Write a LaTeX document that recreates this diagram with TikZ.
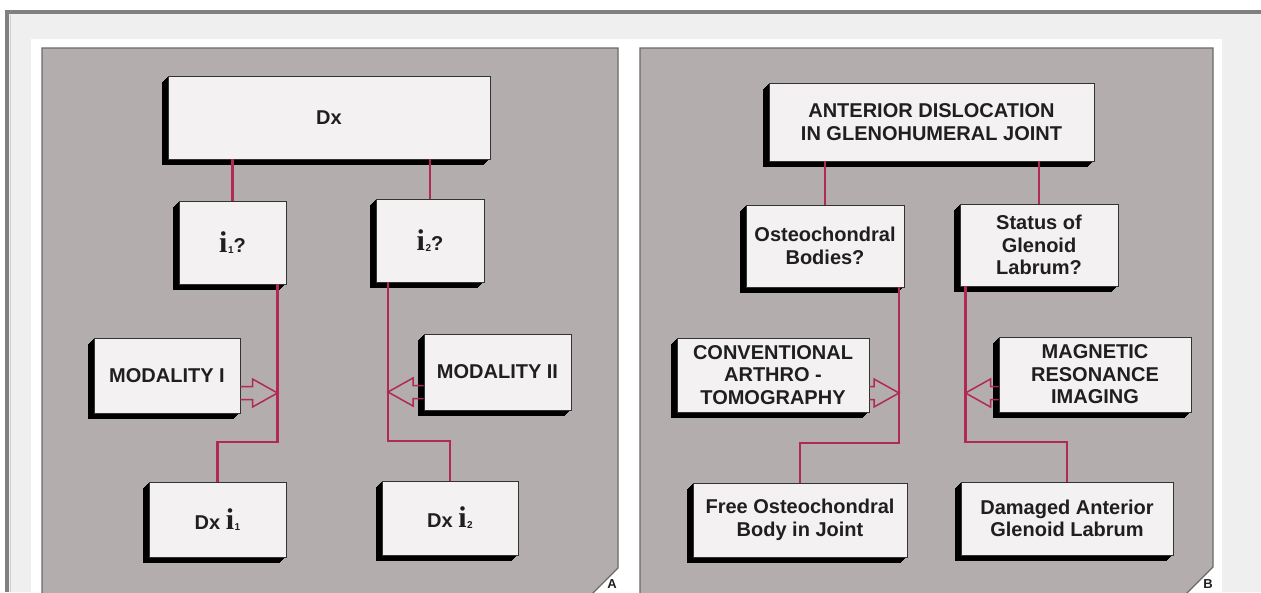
\documentclass[tikz,border=0pt]{standalone}
\usepackage{fontspec}
\setmainfont{Liberation Sans}
\newfontfamily\slabfont{Liberation Serif}
\usetikzlibrary{calc,shadows}

\definecolor{pagegray}{HTML}{EFEFEF}
\definecolor{framegray}{HTML}{808080}
\definecolor{panelgray}{HTML}{B3ADAE}
\definecolor{paneledge}{HTML}{6E6869}
\definecolor{cardfill}{HTML}{F4F1F2}
\definecolor{linkred}{HTML}{B12A55}

\tikzset{
  extrude/.style={
    general shadow={shadow xshift=-1pt,shadow yshift=-1pt,fill=black},
    general shadow={shadow xshift=-2pt,shadow yshift=-2pt,fill=black},
    general shadow={shadow xshift=-3pt,shadow yshift=-3pt,fill=black},
    general shadow={shadow xshift=-4pt,shadow yshift=-4pt,fill=black},
    general shadow={shadow xshift=-5pt,shadow yshift=-5pt,fill=black},
    general shadow={shadow xshift=-6pt,shadow yshift=-6pt,fill=black}},
  card/.style={extrude, fill=cardfill, draw=black!80, line width=0.8pt,
    inner sep=2pt, align=center, text=black!88,
    font=\bfseries\fontsize{20}{22.5}\selectfont},
  link/.style={draw=linkred, line width=2.5pt},
  hollow/.style={draw=linkred, line width=1.5pt, line join=miter},
  panel/.style={fill=panelgray, draw=paneledge, line width=1.2pt},
  tag/.style={anchor=south, text=black!88, font=\bfseries\fontsize{13}{13}\selectfont}
}

% index variable: serif i with a small subscript
\newcommand{\ivar}[1]{{\slabfont\fontsize{30}{30}\selectfont i}\kern0.5pt\raisebox{-1pt}{\fontsize{10}{10}\selectfont #1}}
% open arrow from a tail coordinate to a tip coordinate, #3 = 1 (right) or -1 (left)
\newcommand{\openarrow}[3]{%
  \draw[hollow] ($(#1)+(0,-6.5)$) -- ($(#2)+({-25*#3},-6.5)$) -- ($(#2)+({-25*#3},-14)$)
    -- (#2) -- ($(#2)+({-25*#3},14)$) -- ($(#2)+({-25*#3},6.5)$) -- ($(#1)+(0,6.5)$);
}

\begin{document}
\begin{tikzpicture}[x=1pt, y=-1pt]
  \useasboundingbox (0,0) rectangle (1261,592);
  \clip (0,0) rectangle (1261,592);

  % page frame
  \fill[white] (0,0) rectangle (1261,592);
  \fill[pagegray] (5,10) rectangle (1261,592);
  \fill[white] (31,39) rectangle (1222,592);
  \fill[framegray] (5,10) rectangle (1261,13.5);
  \fill[framegray] (5,10) rectangle (8.5,592);
  \draw[black!18, line width=1pt] (10,15) -- (10,592);

  % Left panel: generic scheme
  \begin{scope}
    \draw[panel] (42,48) -- (618,48) -- (618,568) -- (590,596) -- (42,596) -- cycle;

    \node[card, minimum width=322, minimum height=83] (dx) at (329,117.5) {Dx};
    \node[card, minimum width=107, minimum height=83] (qone) at (232.5,242.5) {\ivar{1}?};
    \node[card, minimum width=108, minimum height=83] (qtwo) at (430,240.5) {\ivar{2}?};
    \node[card, minimum width=146, minimum height=75] (modone) at (167,375.5) {MODALITY I};
    \node[card, minimum width=147, minimum height=76] (modtwo) at (497.5,372) {MODALITY II};
    \node[card, minimum width=137, minimum height=75] (dxone) at (217.5,519.5) {Dx \ivar{1}};
    \node[card, minimum width=136, minimum height=74] (dxtwo) at (450,518) {Dx \ivar{2}};

    \coordinate (jone) at (277.5,442);
    \coordinate (jtwo) at (388,441);
    \coordinate (tipone) at (277.5,393);
    \coordinate (tiptwo) at (388,392);
    \coordinate (tailone) at (modone.east |- tipone);
    \coordinate (tailtwo) at (modtwo.west |- tiptwo);

    \draw[link] (dx.south -| qone) -- (qone.north);
    \draw[link] (dx.south -| qtwo) -- (qtwo.north);
    \draw[link] (jone |- qone.south) -- (jone) -| (dxone.north);
    \draw[link] (jtwo |- qtwo.south) -- (jtwo) -| (dxtwo.north);
    \openarrow{tailone}{tipone}{1}
    \openarrow{tailtwo}{tiptwo}{-1}

    \node[tag] (taga) at (612,592) {A};
  \end{scope}

  % Right panel: shoulder example
  \begin{scope}
    \draw[panel] (640,48) -- (1213,48) -- (1213,567) -- (1184,596) -- (640,596) -- cycle;

    \node[card, minimum width=325, minimum height=78] (adgj) at (931.5,122)
      {ANTERIOR DISLOCATION\\IN GLENOHUMERAL JOINT};
    \node[card, minimum width=158, minimum height=82] (osteo) at (825,246)
      {Osteochondral\\Bodies?};
    \node[card, minimum width=158, minimum height=82] (labrum) at (1039,245)
      {Status of\\Glenoid\\Labrum?};
    \node[card, minimum width=192, minimum height=74] (arthro) at (773,375)
      {CONVENTIONAL\\ARTHRO -\\TOMOGRAPHY};
    \node[card, minimum width=192, minimum height=75] (mri) at (1095,374.5)
      {MAGNETIC\\RESONANCE\\IMAGING};
    \node[card, minimum width=214, minimum height=74] (freebody) at (800,520)
      {Free Osteochondral\\Body in Joint};
    \node[card, minimum width=212, minimum height=73] (damaged) at (1067,518.5)
      {Damaged Anterior\\Glenoid Labrum};

    \coordinate (jthree) at (899,443);
    \coordinate (jfour) at (965.5,442);
    \coordinate (tipthree) at (899,393);
    \coordinate (tipfour) at (965.5,393);
    \coordinate (tailthree) at (arthro.east |- tipthree);
    \coordinate (tailfour) at (mri.west |- tipfour);

    \draw[link] (adgj.south -| osteo) -- (osteo.north);
    \draw[link] (adgj.south -| labrum) -- (labrum.north);
    \draw[link] (jthree |- osteo.south) -- (jthree) -| (freebody.north);
    \draw[link] (jfour |- labrum.south) -- (jfour) -| (damaged.north);
    \openarrow{tailthree}{tipthree}{1}
    \openarrow{tailfour}{tipfour}{-1}

    \node[tag] (tagb) at (1208,592) {B};
  \end{scope}
\end{tikzpicture}
\end{document}
